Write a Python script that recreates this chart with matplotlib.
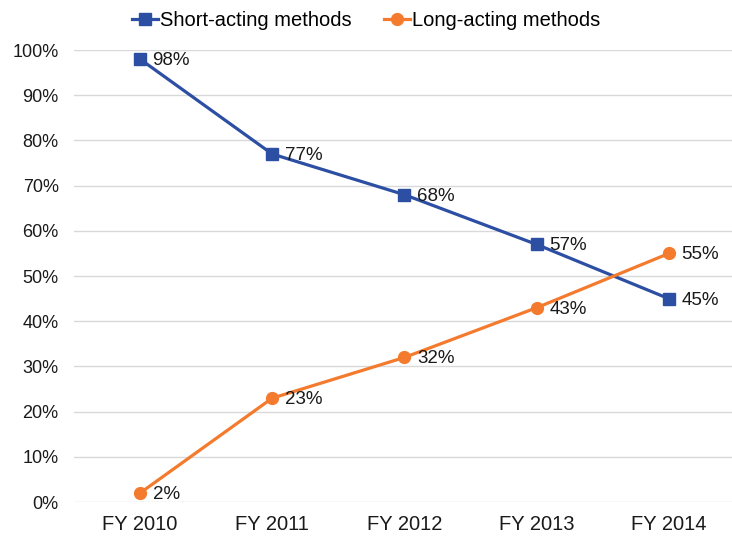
import matplotlib
matplotlib.use("Agg")
import matplotlib.pyplot as plt

categories = ["FY 2010", "FY 2011", "FY 2012", "FY 2013", "FY 2014"]
short_acting = [98, 77, 68, 57, 45]
long_acting = [2, 23, 32, 43, 55]
yticks = list(range(0, 101, 10))

plt.rcParams['font.family'] = ['Liberation Sans', 'DejaVu Sans']

fig = plt.figure(figsize=(7.32, 5.44), dpi=100)
ax = fig.add_axes([0.101, 0.077, 0.903, 0.831])

blue = "#2C4FA3"
orange = "#F47A2E"
x = list(range(len(categories)))
ax.plot(x, short_acting, color=blue, lw=2.3, marker="s", ms=8, label="Short-acting methods")
ax.plot(x, long_acting, color=orange, lw=2.3, marker="o", ms=8.5, label="Long-acting methods")

for xi, v in zip(x, short_acting):
    ax.annotate(f"{v}%", (xi, v), xytext=(9, -1), textcoords="offset points",
                ha="left", va="center", fontsize=13.5, color="#1a1a1a")
for xi, v in zip(x, long_acting):
    ax.annotate(f"{v}%", (xi, v), xytext=(9, -1), textcoords="offset points",
                ha="left", va="center", fontsize=13.5, color="#1a1a1a")

ax.set_xlim(-0.5, len(categories) - 0.5)
ax.set_ylim(0, 100)
ax.set_yticks(yticks)
ax.set_yticklabels([f"{t}%" for t in yticks])
ax.set_xticks(x)
ax.set_xticklabels(categories)
ax.tick_params(axis="both", length=0, colors="#1a1a1a")
ax.tick_params(axis="y", labelsize=13, pad=11)
ax.tick_params(axis="x", labelsize=14.5, pad=9)
ax.grid(axis="y", color="#d9d9d9", lw=1)
ax.set_axisbelow(True)
for s in ax.spines.values():
    s.set_visible(False)
for line in ax.lines:
    line.set_clip_on(False)

handles, labels = ax.get_legend_handles_labels()
fig.legend(handles, labels, loc="upper center", bbox_to_anchor=(0.5, 1.013), ncol=2,
           frameon=False, fontsize=14.5, handlelength=1.3, handletextpad=0.1,
           columnspacing=1.6)

fig.savefig("out.png", dpi=100)
